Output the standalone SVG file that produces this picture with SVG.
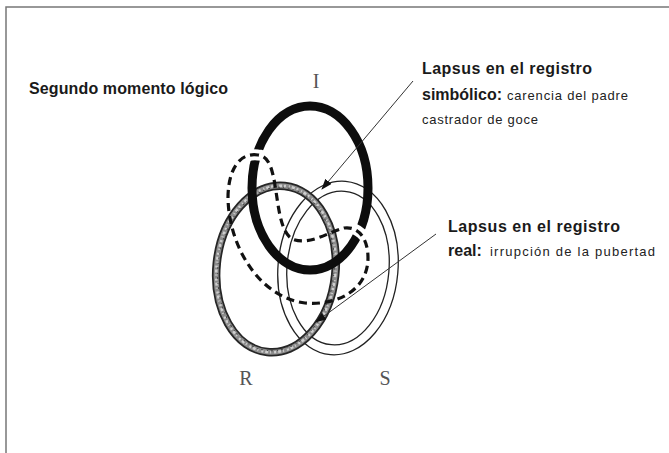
<svg xmlns="http://www.w3.org/2000/svg" width="669" height="453" viewBox="0 0 669 453">
<style>
.b{font-family:"Liberation Sans",Arial,sans-serif;font-weight:bold;font-size:16px;fill:#1a1a1a}
.r{font-family:"Liberation Sans",Arial,sans-serif;font-size:13px;fill:#222}
.L{font-family:"Liberation Serif","Times New Roman",serif;font-size:20px;fill:#555;text-anchor:middle}
.conn{stroke:#333;stroke-width:1;fill:none;marker-end:url(#ah)}
</style>
<defs>
<marker id="ah" markerWidth="11" markerHeight="8" refX="10" refY="4" orient="auto" markerUnits="userSpaceOnUse">
<path d="M0,0 L11,4 L0,8 Z" fill="#111"/>
</marker>
</defs>
<rect x="0" y="0" width="669" height="453" fill="#fff"/>
<path d="M6,453 L6,7 L669,7" fill="none" stroke="#777" stroke-width="1.5"/>

<g id="ring-S" fill="none" stroke="#222" stroke-width="1.3">
<ellipse cx="338" cy="268" rx="60" ry="87" transform="rotate(5 338 268)"/>
<ellipse cx="338" cy="268" rx="51" ry="77" transform="rotate(5 338 268)"/>
</g>

<g id="ring-R" fill="none">
<ellipse cx="276" cy="269" rx="59.5" ry="83.5" stroke="#262626" stroke-width="8.5" transform="rotate(6 276 269)"/>
<ellipse cx="276" cy="269" rx="59.5" ry="83.5" stroke="#8c8c8c" stroke-width="5" transform="rotate(6 276 269)"/>
<ellipse cx="276" cy="269" rx="59.5" ry="83.5" stroke="#cfcfcf" stroke-width="2.5" stroke-dasharray="2 3 1 2 3 2" transform="rotate(6 276 269)"/>
<ellipse cx="276" cy="269" rx="58" ry="82" stroke="#444" stroke-width="1" stroke-dasharray="1 4 2 3" transform="rotate(6 276 269)"/>
</g>

<g id="ring-I" fill="none">
<ellipse cx="310" cy="188" rx="58" ry="82" stroke="#0d0d0d" stroke-width="9"/>
</g>

<g id="ring-dashed" fill="none">
<path d="M272,172 C268,158 264,155 258,155 C250,154 244,157 240,162" stroke="#fff" stroke-width="11"/>
<path d="M369,248 C368,238 358,226 344,228" stroke="#fff" stroke-width="11"/>
<path d="M258,155 C238,152 228,172 228,198 C229,250 262,298 305,303 C340,306 368,288 368,258 C368,238 358,226 344,228 C328,232 310,246 292,239 C278,230 278,195 273,175 C270,162 266,156 258,155 Z" stroke="#111" stroke-width="3.2" stroke-dasharray="8 5"/>
</g>

<g id="connectors">
<line class="conn" x1="413" y1="81" x2="322" y2="189"/>
<line class="conn" x1="436" y1="234" x2="316" y2="322"/>
</g>

<g id="label-I"><text class="L" x="316" y="88">I</text></g>
<g id="label-R"><text class="L" x="246" y="385">R</text></g>
<g id="label-S"><text class="L" x="385" y="385">S</text></g>

<g id="title"><text class="b" x="29" y="94" textLength="199">Segundo momento lógico</text></g>

<g id="label-simbolico">
<text class="b" x="422" y="74" textLength="170">Lapsus en el registro</text>
<text x="422" y="100"><tspan class="b">simbólico:</tspan><tspan class="r" x="507" textLength="121">carencia del padre</tspan></text>
<text class="r" x="422" y="124" textLength="116">castrador de goce</text>
</g>

<g id="label-real">
<text class="b" x="448" y="232" textLength="172">Lapsus en el registro</text>
<text x="448" y="256"><tspan class="b">real:</tspan><tspan class="r" x="490" textLength="165">irrupción de la pubertad</tspan></text>
</g>
</svg>
